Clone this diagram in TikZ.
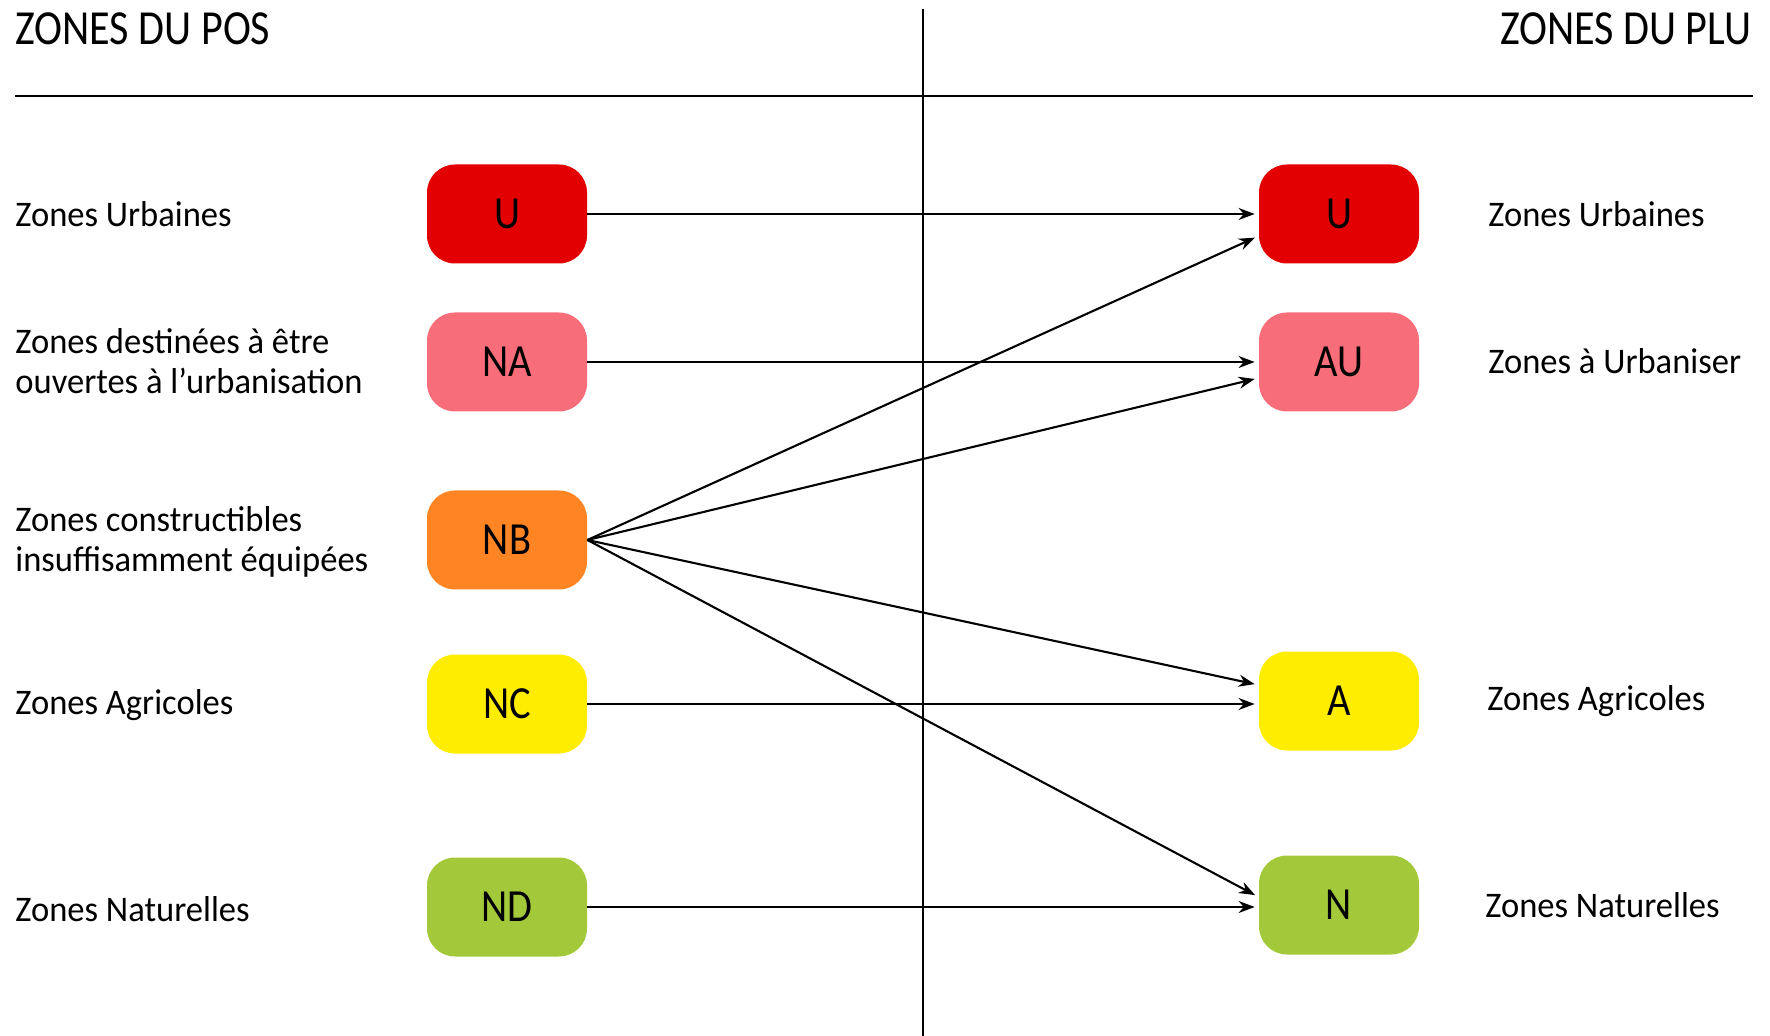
\documentclass[tikz,border=0pt]{standalone}
\usepackage{fontspec}
\setmainfont{Carlito}[FakeStretch=0.96]
\newfontfamily\headfont{Carlito}[FakeStretch=0.86]
\newfontfamily\boxfont{Carlito}[FakeStretch=0.88]
\usetikzlibrary{arrows.meta}

\definecolor{zoneU}{HTML}{E30000}
\definecolor{zoneNA}{HTML}{F76D7A}
\definecolor{zoneNB}{HTML}{FF8524}
\definecolor{zoneNC}{HTML}{FFED00}
\definecolor{zoneND}{HTML}{A3C93A}

\begin{document}
\begin{tikzpicture}[x=0.5pt,y=-0.5pt,
  zonebox/.style={rounded corners=14pt, minimum width=80pt, minimum height=49.5pt,
    inner sep=0pt, font=\boxfont\fontsize{23}{26}\selectfont},
  zonelabel/.style={anchor=west, align=left, inner sep=0pt,
    font=\fontsize{18}{20.3}\selectfont},
  heading/.style={inner sep=0pt, font=\headfont\fontsize{24.5}{28}\selectfont},
  link/.style={-{Stealth[length=8pt,width=6pt]}, line width=1.05pt, shorten >=2pt},
  rule/.style={line width=1.1pt}]
\useasboundingbox (0,0) rectangle (1770,1036);

% headings and dividing rules
\node[heading, anchor=base west] (hpos) at (15,45) {ZONES DU POS};
\node[heading, anchor=base east] (hplu) at (1752,45) {ZONES DU PLU};
\coordinate (hl) at (15,96);
\coordinate (hr) at (1753,96);
\coordinate (vt) at (923,9);
\coordinate (vb) at (923,1036);
\draw[rule] (hl) -- (hr);
\draw[rule] (vt) -- (vb);

% POS zones
\node[zonebox, fill=zoneU]  (u1)  at (507,214) {U};
\node[zonebox, fill=zoneNA] (na)  at (507,362) {NA};
\node[zonebox, fill=zoneNB] (nb)  at (507,540) {NB};
\node[zonebox, fill=zoneNC] (nc)  at (507,704) {NC};
\node[zonebox, fill=zoneND] (nd)  at (507,907) {ND};

% PLU zones
\node[zonebox, fill=zoneU]  (u2)  at (1339,214) {U};
\node[zonebox, fill=zoneNA] (au)  at (1339,362) {AU};
\node[zonebox, fill=zoneNC] (a)   at (1339,701) {A};
\node[zonebox, fill=zoneND] (n)   at (1339,905) {N};

% descriptions, POS side
\node[zonelabel] (lu1) at (15,214) {Zones Urbaines};
\node[zonelabel] (lna) at (15,361) {Zones destinées à être\\ouvertes à l’urbanisation};
\node[zonelabel] (lnb) at (15,542) {Zones constructibles\\insuffisamment équipées};
\node[zonelabel] (lnc) at (15,705) {Zones Agricoles};
\node[zonelabel] (lnd) at (15,909) {Zones Naturelles};

% descriptions, PLU side
\node[zonelabel] (lu2) at (1488,214) {Zones Urbaines};
\node[zonelabel] (lau) at (1488,361) {Zones à Urbaniser};
\node[zonelabel] (la)  at (1487,701) {Zones Agricoles};
\node[zonelabel] (ln)  at (1485,905) {Zones Naturelles};

% correspondences
\draw[link] (u1.east) -- (u1.east -| u2.west);
\draw[link] (na.east) -- (na.east -| au.west);
\draw[link] (nc.east) -- (nc.east -| a.west);
\draw[link] (nd.east) -- (nd.east -| n.west);
\draw[link] (nb.east) -- ([yshift=-11pt]u2.west);
\draw[link] (nb.east) -- ([yshift=-8pt]au.west);
\draw[link] (nb.east) -- ([yshift=8pt]a.west);
\draw[link] (nb.east) -- ([yshift=4pt]n.west);
\end{tikzpicture}
\end{document}
